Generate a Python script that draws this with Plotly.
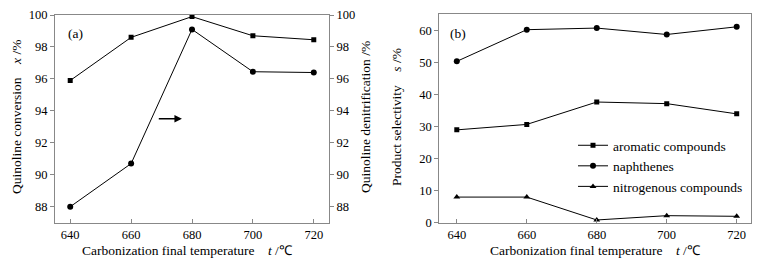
import plotly.graph_objects as go

temps = [640, 660, 680, 700, 720]
conversion = [95.9, 98.6, 99.9, 98.7, 98.45]
denitrification = [88.0, 90.7, 99.1, 96.45, 96.4]
aromatic = [29.0, 30.7, 37.7, 37.2, 34.0]
naphthenes = [50.4, 60.3, 60.8, 58.8, 61.2]
nitrogenous = [8.0, 8.0, 0.85, 2.2, 2.0]
left_ticks = [88, 90, 92, 94, 96, 98, 100]
right_ticks = [0, 10, 20, 30, 40, 50, 60]
x_ticks = [640, 660, 680, 700, 720]

# page body has an 8px margin; figure sized to fit the window exactly
OFF = 8
W, H = 770 - OFF, 264 - OFF
FONT = "Liberation Serif, Times New Roman, serif"
AX = "#888888"

def px(x):
    return (x - OFF) / W

def py(y):
    return 1 - (y - OFF) / H

fig = go.Figure()
line = dict(color="black", width=1)
fig.add_trace(go.Scatter(x=temps, y=conversion, mode="lines+markers", line=line,
                         marker=dict(symbol="square", size=5, color="black"),
                         xaxis="x", yaxis="y", showlegend=False))
fig.add_trace(go.Scatter(x=temps, y=denitrification, mode="lines+markers", line=line,
                         marker=dict(symbol="circle", size=6, color="black"),
                         xaxis="x", yaxis="y2", showlegend=False))
fig.add_trace(go.Scatter(x=temps, y=aromatic, mode="lines+markers", line=line,
                         name="aromatic compounds",
                         marker=dict(symbol="square", size=5, color="black"),
                         xaxis="x2", yaxis="y3"))
fig.add_trace(go.Scatter(x=temps, y=naphthenes, mode="lines+markers", line=line,
                         name="naphthenes",
                         marker=dict(symbol="circle", size=6, color="black"),
                         xaxis="x2", yaxis="y3"))
fig.add_trace(go.Scatter(x=temps, y=nitrogenous, mode="lines+markers", line=line,
                         name="nitrogenous compounds",
                         marker=dict(symbol="triangle-up", size=6, color="black"),
                         xaxis="x2", yaxis="y3"))

tickfont = dict(family=FONT, size=12.5, color="black")
common_x = dict(tickvals=x_ticks, ticks="inside", ticklen=4, tickcolor=AX,
                showline=True, linecolor=AX, linewidth=1, mirror=True,
                showgrid=False, zeroline=False, tickfont=tickfont, automargin=False)
common_y = dict(ticks="outside", ticklen=4, tickcolor=AX, showline=True,
                linecolor=AX, linewidth=1, showgrid=False, zeroline=False,
                tickfont=tickfont, automargin=False)

fig.update_layout(
    template="none",
    width=W, height=H, margin=dict(l=0, r=0, t=0, b=0, autoexpand=False),
    paper_bgcolor="white", plot_bgcolor="white",
    font=dict(family=FONT, size=12, color="black"),
    xaxis=dict(domain=[px(55), px(329)], range=[635, 725], anchor="y", **common_x),
    yaxis=dict(domain=[py(222.7), py(15)], range=[87, 100], tickvals=left_ticks,
               anchor="x", side="left", **common_y),
    yaxis2=dict(range=[87, 100], tickvals=left_ticks, overlaying="y", anchor="x",
                side="right", **common_y),
    xaxis2=dict(domain=[px(439.3), px(750.7)], range=[635, 724], anchor="y3", **common_x),
    yaxis3=dict(domain=[py(222.7), py(14)], range=[0, 65.2], tickvals=right_ticks,
                anchor="x2", side="left", mirror=True, **common_y),
    legend=dict(x=px(573), y=py(130), xanchor="left", yanchor="top",
                font=dict(family=FONT, size=13.5, color="black"),
                itemwidth=30, tracegroupgap=0, bgcolor="rgba(0,0,0,0)", borderwidth=0),
)

titlefont = dict(family=FONT, size=13.5, color="black")
sp = "\u00a0" * 4
base = dict(xref="paper", yref="paper", showarrow=False, font=titlefont,
            xanchor="center", yanchor="middle")
annotations = [
    dict(text="Carbonization final temperature" + sp + "<i>t</i> /\u2103",
         x=px(187), y=py(250), **base),
    dict(text="Carbonization final temperature" + sp + "<i>t</i> /\u2103",
         x=px(595), y=py(250), **base),
    dict(text="Quinoline conversion" + sp + "<i>x</i> /%", textangle=-90,
         x=px(16), y=py(117), **base),
    dict(text="Quinoline denitrification /%", textangle=-90,
         x=px(365), y=py(117), **base),
    dict(text="Product selectivity" + sp + "<i>s</i> /%", textangle=-90,
         x=px(396), y=py(117), **base),
    dict(text="(a)", x=px(75), y=py(33), **base),
    dict(text="(b)", x=px(458), y=py(33), **base),
    dict(text="", x=676.7, y=93.5, ax=668.6, ay=93.5, xref="x", yref="y",
         axref="x", ayref="y", showarrow=True, arrowhead=2, arrowsize=1,
         arrowwidth=1.5, arrowcolor="black"),
]
fig.update_layout(annotations=annotations)

fig.write_html("out.html")
